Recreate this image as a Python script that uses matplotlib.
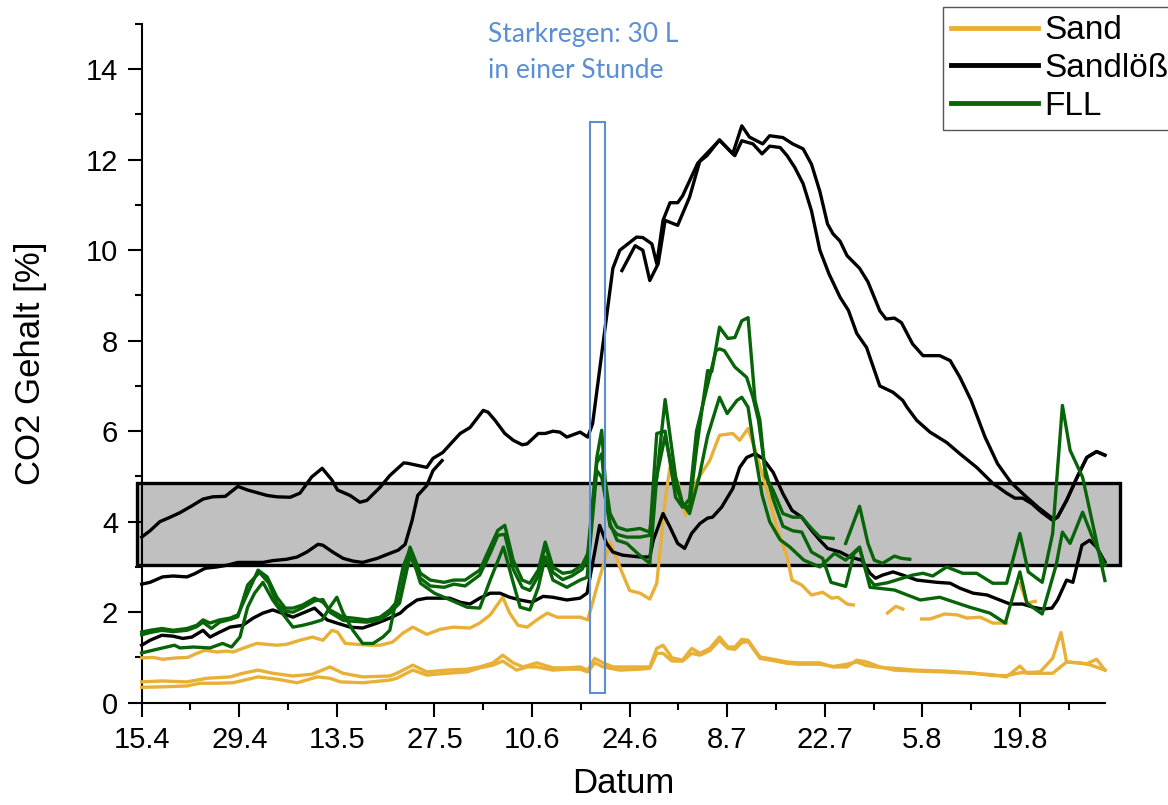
import matplotlib
matplotlib.use("Agg")
import matplotlib.pyplot as plt
from matplotlib.patches import Rectangle
import numpy as np

nan = np.nan

# x = Tage seit 15.4.
tick_days = [0, 14, 28, 42, 56, 70, 84, 98, 112, 126]
tick_labels = ["15.4", "29.4", "13.5", "27.5", "10.6", "24.6", "8.7", "22.7", "5.8", "19.8"]

# Sand (3 Sensoren)
sand_1 = [(0, 0.99), (1.6, 1.0), (3.0, 0.96), (5.0, 0.99), (6.6, 1.0), (7.9, 1.09), (9.1, 1.16), (10.8, 1.12),
          (12.2, 1.14), (13.1, 1.12), (14.5, 1.2), (16.5, 1.31), (17.9, 1.29), (19.4, 1.27), (20.8, 1.29),
          (22.7, 1.38), (24.5, 1.45), (26.0, 1.38), (27.3, 1.6), (28.1, 1.56), (29.2, 1.31), (30.9, 1.29),
          (32.7, 1.27), (34.2, 1.27), (36.0, 1.34), (37.5, 1.54), (38.9, 1.67), (40.9, 1.51), (42.8, 1.62),
          (44.7, 1.67), (47.1, 1.65), (48.5, 1.76), (50.0, 1.94), (51.8, 2.33), (52.8, 1.98), (54.0, 1.71),
          (55.3, 1.67), (56.7, 1.83), (58.2, 1.98), (59.6, 1.89), (61.0, 1.89), (62.9, 1.89), (64.0, 1.83),
          (65.3, 2.55), (67.2, 3.55), (68.6, 3.0), (70.0, 2.48), (71.5, 2.42), (72.9, 2.29), (73.9, 2.64),
          (75.1, 4.47), (75.8, 5.2), (77.0, 4.84), (78.0, 4.14), (79.7, 4.92), (81.5, 5.35), (82.9, 5.91),
          (84.8, 5.95), (85.8, 5.8), (87.0, 6.06), (88.2, 5.5), (89.7, 4.7), (91.1, 3.88), (92.6, 3.22),
          (93.3, 2.71), (94.7, 2.6), (96.1, 2.38), (97.7, 2.44), (99.0, 2.31), (99.9, 2.33), (101.2, 2.18),
          (102.1, 2.16), (102.2, nan), (107.0, 1.98), (108.2, 2.13), (109.2, 2.07), (109.3, nan), (111.9, 1.85),
          (113.1, 1.85), (115.2, 1.96), (117.0, 1.94), (118.4, 1.87), (120.3, 1.89), (122.1, 1.76),
          (124.1, 1.76), (124.2, nan), (126.0, 2.64), (127.0, 2.2), (128.2, 2.24)]
sand_2 = [(0, 0.46), (3.0, 0.48), (6.5, 0.46), (9.4, 0.54), (12.7, 0.57), (14.5, 0.65), (16.7, 0.72), (18.8, 0.65),
          (21.7, 0.59), (24.5, 0.63), (27.0, 0.79), (28.9, 0.65), (31.7, 0.57), (35.6, 0.59), (36.6, 0.65),
          (38.9, 0.83), (40.9, 0.68), (43.8, 0.72), (46.7, 0.74), (48.5, 0.79), (50.4, 0.88), (51.8, 1.05),
          (53.3, 0.88), (54.7, 0.79), (56.7, 0.88), (59.0, 0.77), (61.0, 0.77), (62.9, 0.79), (64.0, 0.72),
          (65.0, 0.98), (66.2, 0.88), (67.6, 0.79), (71.5, 0.79), (72.9, 0.79), (73.9, 1.2), (74.8, 1.27),
          (76.1, 0.99), (77.6, 0.94), (78.9, 1.2), (80.1, 1.09), (81.5, 1.2), (82.9, 1.45), (84.1, 1.23),
          (85.1, 1.23), (86.1, 1.4), (87.0, 1.38), (88.7, 1.01), (90.6, 0.96), (92.6, 0.9), (94.4, 0.88),
          (97.3, 0.88), (99.2, 0.79), (101.2, 0.79), (102.6, 0.94), (104.0, 0.9), (105.9, 0.79), (108.0, 0.72),
          (111.0, 0.7), (115.0, 0.68), (119.0, 0.65), (122.0, 0.62), (124.1, 0.57), (126.0, 0.81), (127.0, 0.65),
          (128.9, 0.65), (130.7, 0.65), (132.7, 0.9), (135.6, 0.86), (137.0, 0.96), (138.2, 0.72)]
sand_3 = [(0, 0.34), (3.0, 0.35), (6.5, 0.37), (8.4, 0.43), (10.8, 0.43), (13.1, 0.44), (16.7, 0.57), (19.4, 0.52),
          (22.3, 0.44), (25.2, 0.57), (27.0, 0.54), (28.5, 0.46), (31.7, 0.44), (35.6, 0.5), (36.6, 0.54),
          (38.9, 0.72), (40.9, 0.61), (43.8, 0.65), (46.7, 0.68), (48.5, 0.77), (50.4, 0.83), (51.8, 0.92),
          (53.8, 0.72), (55.3, 0.79), (56.7, 0.79), (59.0, 0.72), (61.0, 0.74), (62.9, 0.74), (64.0, 0.68),
          (65.0, 0.88), (66.2, 0.79), (68.6, 0.72), (71.5, 0.74), (72.9, 0.76), (73.9, 1.09), (74.8, 1.09),
          (76.1, 0.92), (77.6, 0.92), (78.9, 1.09), (80.1, 1.05), (81.5, 1.15), (82.9, 1.38), (84.1, 1.2),
          (85.1, 1.18), (86.1, 1.33), (87.0, 1.35), (88.7, 0.98), (90.6, 0.93), (92.6, 0.87), (94.4, 0.85),
          (97.3, 0.85), (99.2, 0.8), (101.2, 0.85), (102.6, 0.9), (104.0, 0.82), (105.9, 0.78), (108.0, 0.76),
          (111.0, 0.72), (115.0, 0.7), (119.0, 0.66), (122.0, 0.6), (124.1, 0.6), (126.0, 0.66), (128.9, 0.68),
          (130.7, 0.98), (131.9, 1.55), (132.7, 0.9), (134.6, 0.88), (136.0, 0.84), (138.2, 0.72)]

# Sandlöß
loess_1 = [(0, 3.66), (1.2, 3.8), (2.6, 4.0), (4.1, 4.1), (5.5, 4.2), (7.2, 4.35), (8.8, 4.5), (10.2, 4.55),
           (12.0, 4.56), (13.8, 4.78), (15.2, 4.7), (18.0, 4.58), (19.4, 4.55), (21.3, 4.54), (22.7, 4.63),
           (24.4, 4.99), (25.9, 5.18), (27.3, 4.92), (28.1, 4.7), (29.9, 4.58), (31.3, 4.43), (32.3, 4.47),
           (34.2, 4.76), (35.6, 5.02), (37.6, 5.3), (38.2, 5.29), (40.9, 5.2), (41.8, 5.4), (43.2, 5.53),
           (44.5, 5.75), (45.7, 5.95), (47.1, 6.08), (49.0, 6.46), (49.7, 6.42), (50.7, 6.24), (52.1, 5.95),
           (53.3, 5.8), (54.6, 5.7), (55.3, 5.72), (56.9, 5.95), (57.9, 5.95), (59.0, 6.0), (60.0, 5.98),
           (61.0, 5.87), (62.9, 5.98), (64.0, 5.87), (64.7, 6.17), (67.6, 9.6), (68.6, 10.0), (71.0, 10.29),
           (71.9, 10.28), (73.2, 10.14), (73.9, 9.7), (74.8, 10.66), (75.8, 11.05), (76.9, 11.05), (77.6, 11.2),
           (79.8, 11.93), (81.1, 12.09), (82.9, 12.44), (84.8, 12.13), (86.1, 12.75), (87.2, 12.5), (89.1, 12.35),
           (90.1, 12.53), (92.0, 12.49), (93.4, 12.35), (94.9, 12.24), (96.1, 11.9), (97.3, 11.3), (98.4, 10.58),
           (99.2, 10.36), (100.2, 10.2), (101.2, 9.88), (103.0, 9.6), (104.2, 9.3), (105.9, 8.66), (106.8, 8.48),
           (108.0, 8.5), (109.0, 8.4), (110.6, 7.93), (112.1, 7.67), (114.5, 7.67), (116.0, 7.56), (117.4, 7.19),
           (119.0, 6.68), (121.0, 5.87), (122.8, 5.28), (124.7, 4.87), (126.7, 4.58), (128.6, 4.32), (130.7, 4.07),
           (131.4, 4.1), (132.7, 4.47), (134.2, 4.98), (135.6, 5.42), (137.0, 5.55), (138.2, 5.47)]
loess_2 = [(0, 2.62), (1.2, 2.66), (3.0, 2.78), (4.5, 2.8), (6.5, 2.78), (7.6, 2.85), (9.1, 2.97), (10.8, 3.0),
           (12.3, 3.04), (13.8, 3.1), (15.1, 3.1), (17.4, 3.1), (18.8, 3.14), (20.8, 3.17), (22.3, 3.22),
           (23.7, 3.33), (25.3, 3.5), (26.0, 3.48), (27.4, 3.33), (28.9, 3.19), (30.3, 3.13), (31.7, 3.1),
           (33.8, 3.19), (35.6, 3.3), (36.8, 3.37), (37.8, 3.5), (38.8, 4.03), (39.6, 4.58), (40.9, 4.8),
           (41.8, 5.13), (43.1, 5.35), (43.2, nan), (68.9, 9.55), (70.8, 10.1), (71.9, 10.0), (72.9, 9.33),
           (74.1, 9.7), (75.1, 10.66), (76.9, 10.55), (78.6, 11.17), (80.1, 11.98), (82.9, 12.43), (85.1, 12.09),
           (86.1, 12.42), (87.7, 12.35), (89.0, 12.13), (90.1, 12.3), (91.6, 12.27), (92.6, 12.09), (93.7, 11.83),
           (94.9, 11.47), (96.1, 10.87), (97.3, 10.0), (98.6, 9.48), (100.2, 8.96), (101.4, 8.67), (102.6, 8.16),
           (104.0, 7.85), (105.9, 7.0), (107.8, 6.86), (109.2, 6.68), (109.8, 6.53), (111.2, 6.24), (113.1, 5.98),
           (115.5, 5.75), (117.4, 5.5), (119.8, 5.2), (122.1, 4.85), (124.1, 4.63), (125.3, 4.52), (126.4, 4.52),
           (127.7, 4.4), (129.1, 4.21), (130.7, 4.03), (131.4, 4.1), (132.7, 4.47), (134.2, 4.98), (135.6, 5.42),
           (137.0, 5.55), (138.2, 5.47)]
loess_3 = [(0, 1.27), (1.2, 1.38), (2.9, 1.49), (4.5, 1.47), (5.9, 1.42), (7.2, 1.45), (8.8, 1.6), (9.8, 1.45),
           (11.2, 1.56), (12.7, 1.67), (14.5, 1.71), (16.0, 1.87), (17.4, 1.98), (18.8, 2.05), (20.1, 1.98),
           (21.7, 1.89), (23.1, 1.98), (24.8, 2.09), (26.6, 1.83), (28.0, 1.76), (29.9, 1.67), (31.7, 1.65),
           (33.8, 1.76), (35.6, 1.87), (37.1, 1.98), (38.0, 2.11), (39.5, 2.27), (40.9, 2.31), (42.4, 2.31),
           (44.2, 2.31), (45.7, 2.22), (47.1, 2.18), (48.5, 2.31), (50.0, 2.42), (51.4, 2.42), (52.8, 2.33),
           (54.3, 2.27), (56.0, 2.22), (57.6, 2.35), (59.0, 2.33), (61.0, 2.27), (62.9, 2.31), (63.9, 2.42),
           (65.7, 3.92), (66.7, 3.52), (67.6, 3.33), (69.0, 3.26), (71.5, 3.22), (72.9, 3.22), (73.4, 3.59),
           (74.8, 4.18), (75.8, 3.88), (76.9, 3.52), (77.9, 3.41), (78.9, 3.74), (80.1, 3.96), (81.2, 4.08),
           (81.9, 4.1), (83.2, 4.32), (84.8, 4.73), (85.8, 5.2), (86.8, 5.42), (88.0, 5.5), (89.1, 5.4),
           (90.6, 5.09), (92.0, 4.62), (93.3, 4.25), (94.7, 4.1), (96.1, 3.81), (97.3, 3.59), (98.4, 3.41),
           (100.2, 3.33), (101.6, 3.22), (103.3, 3.15), (104.5, 2.86), (105.3, 2.75), (106.3, 2.82), (107.8, 2.89),
           (109.2, 2.82), (111.2, 2.71), (114.1, 2.66), (116.0, 2.64), (117.4, 2.53), (119.3, 2.42), (121.3, 2.38),
           (123.1, 2.27), (124.6, 2.18), (126.4, 2.18), (127.9, 2.11), (129.2, 2.07), (130.6, 2.09), (131.4, 2.27),
           (132.7, 2.71), (133.6, 2.66), (134.9, 3.48), (136.0, 3.59), (137.0, 3.44), (138.2, 3.11)]

# FLL
fll_1 = [(0, 1.56), (1.2, 1.6), (2.9, 1.64), (4.5, 1.6), (6.5, 1.64), (7.9, 1.71), (8.8, 1.83), (9.8, 1.76),
         (11.2, 1.83), (12.7, 1.87), (13.8, 1.94), (15.2, 2.42), (16.7, 2.93), (18.0, 2.78), (19.4, 2.33),
         (20.6, 2.09), (21.7, 2.09), (23.1, 2.16), (24.8, 2.31), (26.0, 2.22), (27.0, 2.05), (28.9, 1.89),
         (30.3, 1.87), (32.3, 1.83), (34.2, 1.89), (35.6, 2.05), (37.0, 2.3), (38.5, 3.44), (40.0, 2.86),
         (41.4, 2.71), (43.4, 2.66), (44.8, 2.71), (46.4, 2.71), (48.5, 2.93), (50.0, 3.44), (51.1, 3.81),
         (52.1, 3.92), (53.3, 3.15), (54.6, 2.71), (55.7, 2.64), (56.9, 2.93), (57.9, 3.55), (59.0, 3.0),
         (60.4, 2.86), (61.7, 2.89), (63.2, 3.04), (64.0, 3.3), (65.3, 5.42), (66.0, 6.02), (66.5, 4.92),
         (67.2, 4.18), (68.2, 3.88), (69.6, 3.81), (71.5, 3.85), (72.9, 3.77), (73.9, 5.0), (75.1, 6.7),
         (76.6, 5.0), (77.6, 4.4), (78.6, 4.3), (79.6, 5.6), (80.5, 6.6), (81.2, 7.34), (81.8, 7.32), (82.9, 8.3),
         (84.1, 8.05), (85.1, 8.07), (86.1, 8.44), (87.0, 8.51), (88.0, 6.68), (88.7, 6.24), (89.5, 5.0),
         (90.6, 4.69), (92.0, 4.18), (93.4, 4.1), (94.7, 4.1), (96.1, 3.85), (97.3, 3.66), (99.2, 3.63),
         (99.3, nan), (101.0, 3.52), (103.0, 4.34), (104.2, 3.52), (105.1, 3.15), (106.3, 3.08), (108.0, 3.24),
         (109.0, 3.19), (110.2, 3.17)]
fll_2 = [(0, 1.5), (1.2, 1.55), (2.9, 1.6), (4.5, 1.57), (6.5, 1.6), (7.9, 1.68), (8.8, 1.78), (10.0, 1.64),
         (11.2, 1.78), (12.7, 1.84), (13.8, 1.9), (15.2, 2.6), (16.9, 2.88), (18.2, 2.65), (19.4, 2.2),
         (20.6, 2.02), (21.7, 2.0), (23.1, 2.1), (24.8, 2.25), (26.0, 2.28), (27.0, 2.0), (28.9, 1.82),
         (30.3, 1.8), (32.3, 1.78), (34.2, 1.83), (35.6, 1.98), (37.0, 2.2), (38.5, 3.25), (40.0, 2.75),
         (41.4, 2.58), (43.4, 2.55), (44.8, 2.62), (46.4, 2.58), (48.5, 2.82), (50.0, 3.3), (51.1, 3.7),
         (52.1, 3.72), (53.3, 2.95), (54.6, 2.55), (55.7, 2.48), (56.9, 2.8), (57.9, 3.5), (59.0, 2.88),
         (60.4, 2.72), (61.7, 2.8), (63.2, 2.95), (64.0, 3.2), (65.3, 5.3), (66.0, 5.5), (66.5, 4.6), (67.2, 3.9),
         (68.2, 3.72), (69.6, 3.66), (71.5, 3.66), (72.9, 3.7), (73.9, 5.95), (75.1, 6.0), (76.6, 4.54),
         (77.6, 4.32), (78.6, 4.5), (79.6, 6.0), (81.0, 6.9), (82.4, 7.78), (82.9, 7.82), (83.6, 7.78),
         (85.1, 7.42), (86.8, 7.19), (87.7, 6.75), (88.5, 6.24), (89.4, 5.2), (90.6, 4.5), (92.0, 3.9),
         (93.4, 3.8), (94.7, 3.77), (96.1, 3.33), (97.7, 3.19), (98.9, 2.66), (101.0, 2.57), (102.2, 3.3),
         (103.0, 3.41), (104.2, 2.77), (105.1, 2.6), (107.0, 2.65), (110.6, 2.82), (112.1, 2.86), (113.5, 2.8),
         (115.5, 3.0), (117.8, 2.86), (119.8, 2.86), (122.1, 2.64), (124.1, 2.64), (126.0, 3.74), (127.2, 2.89),
         (129.2, 2.66), (130.7, 3.74), (132.1, 6.57), (133.2, 5.58), (135.0, 4.98), (138.2, 2.7)]
fll_3 = [(0, 1.1), (3.0, 1.21), (4.7, 1.27), (5.5, 1.21), (7.4, 1.23), (9.8, 1.21), (11.6, 1.31), (12.9, 1.23),
         (14.1, 1.45), (15.2, 2.11), (16.2, 2.42), (17.4, 2.66), (18.8, 2.27), (20.6, 1.89), (21.7, 1.67),
         (23.1, 1.71), (24.4, 1.76), (25.9, 1.83), (27.0, 2.11), (28.0, 2.33), (28.9, 1.98), (30.3, 1.6),
         (31.7, 1.31), (33.2, 1.31), (34.6, 1.45), (35.6, 1.6), (37.5, 3.0), (38.5, 3.4), (40.0, 2.64),
         (42.0, 2.42), (44.3, 2.27), (46.7, 2.11), (48.5, 2.09), (50.0, 2.71), (51.9, 3.44), (53.2, 2.71),
         (54.3, 2.11), (55.7, 2.05), (56.9, 2.55), (57.9, 3.22), (59.0, 2.71), (61.0, 2.55), (62.9, 2.71),
         (63.9, 2.77), (65.3, 5.13), (66.0, 4.98), (67.2, 3.96), (68.2, 3.59), (69.6, 3.52), (71.5, 3.25),
         (72.9, 3.08), (73.9, 5.0), (75.1, 5.9), (76.6, 4.8), (77.6, 4.4), (78.6, 4.18), (80.0, 5.0), (81.2, 5.9),
         (82.9, 6.75), (84.0, 6.39), (85.4, 6.68), (86.1, 6.75), (87.0, 6.53), (88.0, 5.5), (89.0, 4.6),
         (90.1, 4.0), (91.6, 3.6), (93.0, 3.44), (95.0, 3.15), (97.3, 3.0), (99.4, 3.3), (101.0, 3.15),
         (103.0, 3.44), (104.5, 2.55), (108.0, 2.49), (111.7, 2.27), (114.5, 2.33), (118.8, 2.11), (121.7, 1.98),
         (123.9, 1.76), (126.0, 2.89), (127.0, 2.2), (129.2, 1.96), (131.2, 3.04), (132.1, 3.77), (133.2, 3.52),
         (135.0, 4.21), (136.4, 3.66), (138.2, 3.04)]

sand_color = "#E8B036"
loess_color = "black"
fll_color = "#086408"
rain_color = "#5B8FD4"

groups = [
    ("Sand", sand_color, [sand_1, sand_2, sand_3]),
    ("Sandlöß", loess_color, [loess_1, loess_2, loess_3]),
    ("FLL", fll_color, [fll_1, fll_2, fll_3]),
]

plt.rcParams["font.family"] = ["Liberation Sans", "DejaVu Sans"]

fig = plt.figure(figsize=(11.68, 8.05), dpi=100)
ax = fig.add_axes([0.1213, 0.1271, 0.8247, 0.8431])

# grauer Bereich
ax.add_patch(Rectangle((-0.7, 3.05), 141.1, 1.81, facecolor="#c0c0c0", edgecolor="black",
                       linewidth=2.4, clip_on=False, zorder=1))

handles = []
for name, color, series in groups:
    for i, s in enumerate(series):
        xs = [p[0] for p in s]
        ys = [p[1] for p in s]
        line, = ax.plot(xs, ys, color=color, lw=2.4, zorder=3, clip_on=False)
        if i == 0:
            handles.append((line, name))

# Starkregen
ax.add_patch(Rectangle((64.3, 0.21), 2.2, 12.63, fill=False, edgecolor=rain_color,
                       linewidth=1.5, zorder=5))
fig.text(488 / 1168, 1 - 22 / 805, "Starkregen: 30 L\nin einer Stunde", color=rain_color,
         fontsize=19, family=["Lato", "DejaVu Sans"], va="top", ha="left", linespacing=1.55)

ax.set_xlim(0, 138.2)
ax.set_ylim(0, 15)
ax.set_xticks(tick_days)
ax.set_xticklabels(tick_labels)
ax.set_xticks([d + 7 for d in tick_days], minor=True)
ax.set_yticks(range(0, 15, 2))
ax.set_yticks(range(1, 16, 2), minor=True)
ax.spines["top"].set_visible(False)
ax.spines["right"].set_visible(False)
ax.spines["left"].set_linewidth(1.5)
ax.spines["bottom"].set_linewidth(1.5)
ax.tick_params(which="major", length=10, width=1.5, labelsize=21, pad=7)
ax.tick_params(which="minor", length=5, width=1.5)

ax.set_xlabel("Datum", fontsize=25, labelpad=9)
ax.set_ylabel("CO2 Gehalt [%]", fontsize=25, labelpad=28)

leg = fig.legend([h for h, n in handles], [n for h, n in handles], loc="upper left",
                 bbox_to_anchor=(943 / 1168, 1 - 7 / 805), bbox_transform=fig.transFigure,
                 fontsize=24, frameon=True, fancybox=False, framealpha=1, borderpad=0.25,
                 labelspacing=0.2, handlelength=2.6, handletextpad=0.2, borderaxespad=0)
leg.get_frame().set_edgecolor("#555555")
leg.get_frame().set_linewidth(1.0)
for l in leg.get_lines():
    l.set_linewidth(3.5)

fig.savefig("out.png", dpi=100)
